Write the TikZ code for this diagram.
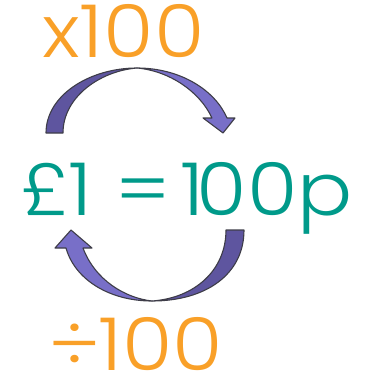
\documentclass[tikz,border=0pt]{standalone}
\usepackage{fontspec}
\setmainfont{Poppins}[UprightFont=* Light, FakeStretch=1.12]
\usepackage{xcolor}
\usetikzlibrary{positioning}
\definecolor{orange}{HTML}{F9A028}
\definecolor{teal}{HTML}{009A8A}
\definecolor{darkband}{HTML}{5E559F}
\definecolor{lightband}{HTML}{786FC8}
\definecolor{edge}{HTML}{3E3D48}
\begin{document}
\begin{tikzpicture}[
  x=1pt, y=-1pt,
  every node/.style={inner sep=0pt, anchor=base west},
  big/.style={font=\fontsize{73}{73}\selectfont},
  band/.style={draw=edge, line width=1.1pt, line join=round},
]
\useasboundingbox (0,0) rectangle (385,377);

% Texts: x100, £1 = 100p, ÷100
\node[big, text=orange] (times)  at (42,58)  {x100};
\node[big, text=teal]   (equiv)  at (20,215) {£1 = \kern-12pt1\kern-8pt00p};
\node[big, text=orange] (divide) at (48,370) {÷\kern-2pt100};

% Upper arrow: light half, then dark half
\path[band, fill=lightband] (137,68) .. controls (180,68) and (215,90) .. (227,118)
  -- (235,118) -- (223,133) -- (203,118) -- (212,118)
  .. controls (200,92) and (170,71) .. (137,68) -- cycle;
\path[band, fill=darkband] (46,133) .. controls (46,95) and (90,68) .. (137,68)
  .. controls (100,71) and (63,97) .. (63,133) -- cycle;

% Lower arrow: light half, then dark half
\path[band, fill=lightband] (152,301) .. controls (110,301) and (75,280) .. (66,248)
  -- (55,248) -- (71,230) -- (92,248) -- (83,248)
  .. controls (95,280) and (125,298) .. (152,301) -- cycle;
\path[band, fill=darkband] (244,230) .. controls (244,275) and (205,301) .. (152,301)
  .. controls (195,298) and (226,270) .. (226,230) -- cycle;
\end{tikzpicture}
\end{document}
